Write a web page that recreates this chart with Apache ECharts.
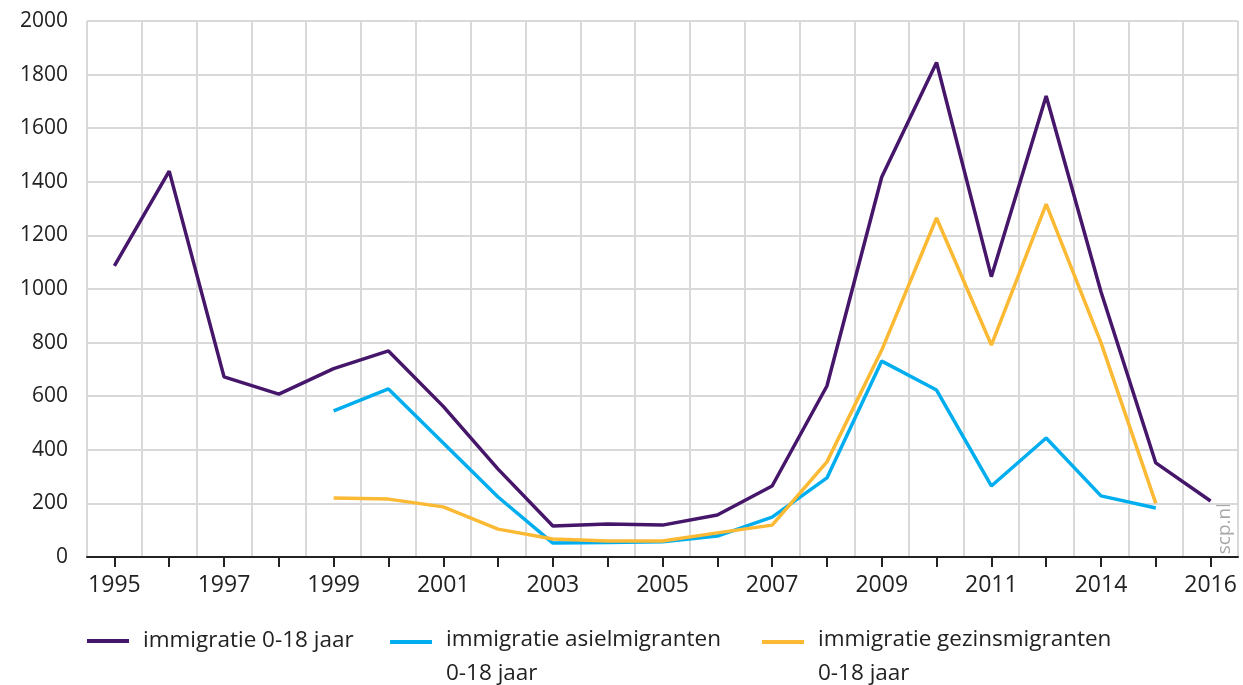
<!DOCTYPE html>
<html>
<head>
<meta charset="utf-8">
<script src="https://cdn.jsdelivr.net/npm/echarts@6/dist/echarts.min.js"></script>
<style>
  html, body { margin: 0; padding: 0; background: #fff; }
  #chart { width: 1243px; height: 685px; }
</style>
</head>
<body>
<div id="chart"></div>
<script>
// jaren op de x-as (2013 ontbreekt in de bron)
const years = ['1995', '1996', '1997', '1998', '1999', '2000', '2001', '2002', '2003', '2004',
  '2005', '2006', '2007', '2008', '2009', '2010', '2011', '2012', '2014', '2015', '2016']

const totaal = [1086, 1440, 672, 608, 703, 769, 562, 328, 116, 123,
  119, 157, 265, 638, 1418, 1845, 1046, 1720, 990, 351, 209]

const asiel = [null, null, null, null, 545, 627, 425, 224, 52, 54,
  57, 78, 149, 295, 731, 623, 265, 444, 228, 183, null]

const gezin = [null, null, null, null, 220, 216, 187, 104, 67, 60,
  60, 90, 119, 355, 772, 1265, 791, 1317, 800, 200, null]

const yTicks = { min: 0, max: 2000, interval: 200 }

const names = ['immigratie 0-18 jaar', 'immigratie asielmigranten 0-18 jaar', 'immigratie gezinsmigranten 0-18 jaar']
const colors = ['#46166b', '#00aeef', '#fbb934']

const font = "'Open Sans', 'DejaVu Sans', sans-serif"

const chart = echarts.init(document.getElementById('chart'))

// icoon met onzichtbaar deel onderaan, zodat het streepje bij de eerste regel staat
const tallIcon = 'path://M0 0H42V4H0Z M0 34H42V34.01H0Z'

const legendBase = {
  orient: 'horizontal',
  itemWidth: 42,
  selectedMode: false,
  textStyle: { fontFamily: font, fontSize: 22.5, color: '#222', lineHeight: 34, padding: [0, 0, 0, 9] }
}

const option = {
  animation: false,
  textStyle: { fontFamily: font },
  grid: { left: 87, right: 5, top: 21, bottom: 128 },
  legend: [
    Object.assign({}, legendBase, { left: 82, top: 619, data: [{ name: names[0], icon: 'rect' }], itemHeight: 4 }),
    Object.assign({}, legendBase, { left: 385, top: 618, data: [{ name: names[1], icon: tallIcon }], itemHeight: 34,
      formatter: () => 'immigratie asielmigranten\n0-18 jaar' }),
    Object.assign({}, legendBase, { left: 757, top: 618, data: [{ name: names[2], icon: tallIcon }], itemHeight: 34,
      formatter: () => 'immigratie gezinsmigranten\n0-18 jaar' })
  ],
  xAxis: {
    type: 'category',
    data: years,
    boundaryGap: true,
    axisLine: { lineStyle: { color: '#222', width: 2 } },
    axisTick: { show: true, alignWithLabel: true, interval: 0, length: 10, lineStyle: { color: '#222', width: 2 } },
    axisLabel: { interval: 1, margin: 17, fontSize: 23, color: '#222', fontFamily: font },
    splitLine: { show: true, interval: 0, lineStyle: { color: '#d9d9d9', width: 2 } }
  },
  yAxis: {
    type: 'value',
    min: yTicks.min,
    max: yTicks.max,
    interval: yTicks.interval,
    axisLine: { show: false },
    axisTick: { show: false },
    axisLabel: { margin: 19, fontSize: 21, color: '#222', fontFamily: font, formatter: v => String(v) },
    splitLine: { lineStyle: { color: '#d9d9d9', width: 2 } }
  },
  series: [
    { name: names[0], type: 'line', data: totaal },
    { name: names[1], type: 'line', data: asiel },
    { name: names[2], type: 'line', data: gezin }
  ].map((s, i) => Object.assign(s, {
    color: colors[i],
    symbol: 'none',
    lineStyle: { width: 3.5, color: colors[i] }
  })),
  graphic: [{
    type: 'text',
    left: 1215,
    top: 503,
    rotation: Math.PI / 2,
    style: { text: 'scp.nl', fontFamily: font, fontSize: 19, fill: '#a8a8a8' }
  }]
}

chart.setOption(option)
</script>
</body>
</html>
